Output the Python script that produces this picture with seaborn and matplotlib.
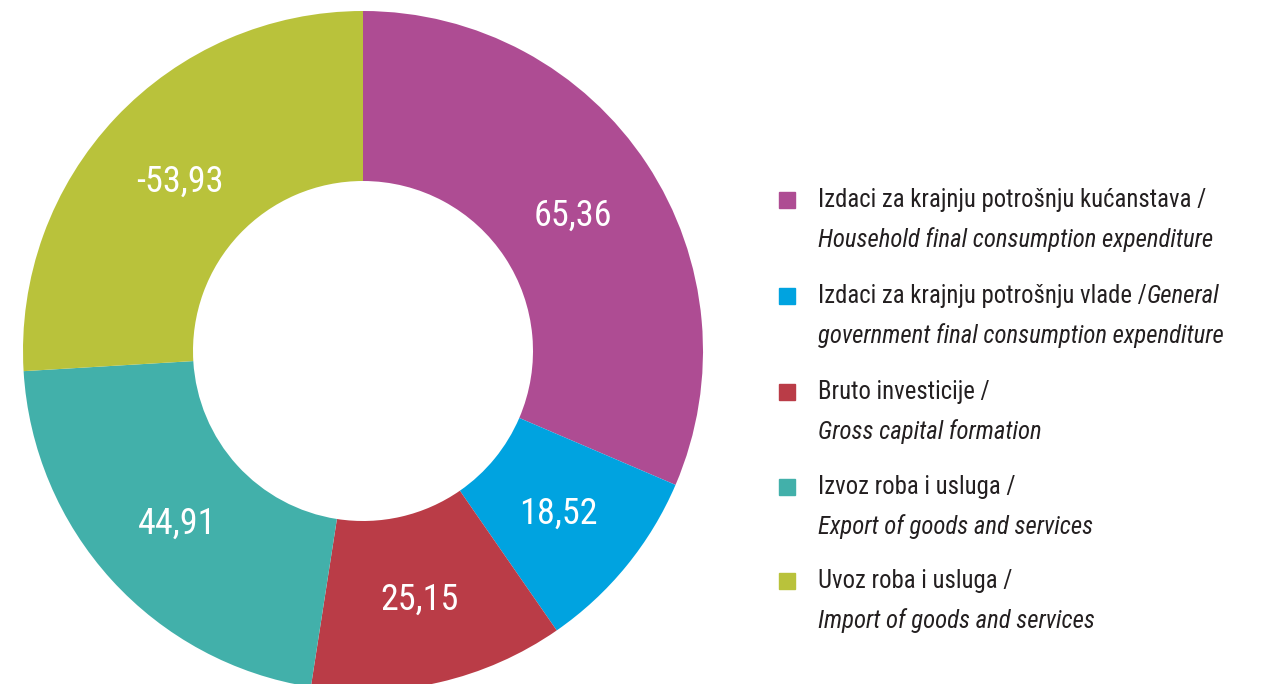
import matplotlib
matplotlib.use("Agg")
import matplotlib.pyplot as plt
import seaborn as sns
import numpy as np

# Data
categories_hr = [
    "Izdaci za krajnju potrošnju kućanstava /",
    "Izdaci za krajnju potrošnju vlade /",
    "Bruto investicije /",
    "Izvoz roba i usluga /",
    "Uvoz roba i usluga /",
]
categories_en = [
    "Household final consumption expenditure",
    "General government final consumption expenditure",
    "Gross capital formation",
    "Export of goods and services",
    "Import of goods and services",
]
values = [65.36, 18.52, 25.15, 44.91, -53.93]
colors = ["#AE4C93", "#00A3E0", "#BA3C47", "#42B0AA", "#B9C23B"]

sns.set_style("white")
plt.rcParams["font.family"] = ["Roboto Condensed", "Roboto", "DejaVu Sans"]

fig = plt.figure(figsize=(12.71, 6.84), dpi=100)
ax = fig.add_axes([23 / 1271, -7 / 684, 680 / 1271, 680 / 684])

sizes = [abs(v) for v in values]
wedges, _ = ax.pie(sizes, colors=colors, startangle=90, counterclock=False,
                   radius=1, wedgeprops=dict(width=0.5, edgecolor="none"))

# value labels in the middle of the ring
for w, v in zip(wedges, values):
    ang = np.deg2rad((w.theta1 + w.theta2) / 2)
    ax.text(0.74 * np.cos(ang), 0.74 * np.sin(ang) - 0.01, f"{v:.2f}".replace(".", ","),
            ha="center", va="center", color="white", fontsize=26)
ax.set_xlim(-1, 1)
ax.set_ylim(-1, 1)
ax.set_aspect("equal")
ax.axis("off")

# legend drawn by hand
text_color = "#231F20"
fs = 17.8
line1_y = [200, 296, 392, 487, 581]
gap = 40
for i in range(len(categories_hr)):
    y1 = 1 - line1_y[i] / 684
    y2 = 1 - (line1_y[i] + gap) / 684
    fig.patches.append(plt.Rectangle((779 / 1271, y1 - 8 / 684), 16 / 1271, 16 / 684,
                                     transform=fig.transFigure, color=colors[i]))
    t = fig.text(818 / 1271, y1, categories_hr[i], ha="left", va="center",
                 fontsize=fs, color=text_color)
    if i == 1:
        ax.annotate("General", xy=(1, 0.5), xycoords=t, va="center", ha="left",
                    fontsize=fs, color=text_color, style="italic", annotation_clip=False)
        second = "government final consumption expenditure"
    else:
        second = categories_en[i]
    fig.text(818 / 1271, y2, second, ha="left", va="center",
             fontsize=fs, color=text_color, style="italic")

plt.savefig("out.png", dpi=100)
plt.close()
